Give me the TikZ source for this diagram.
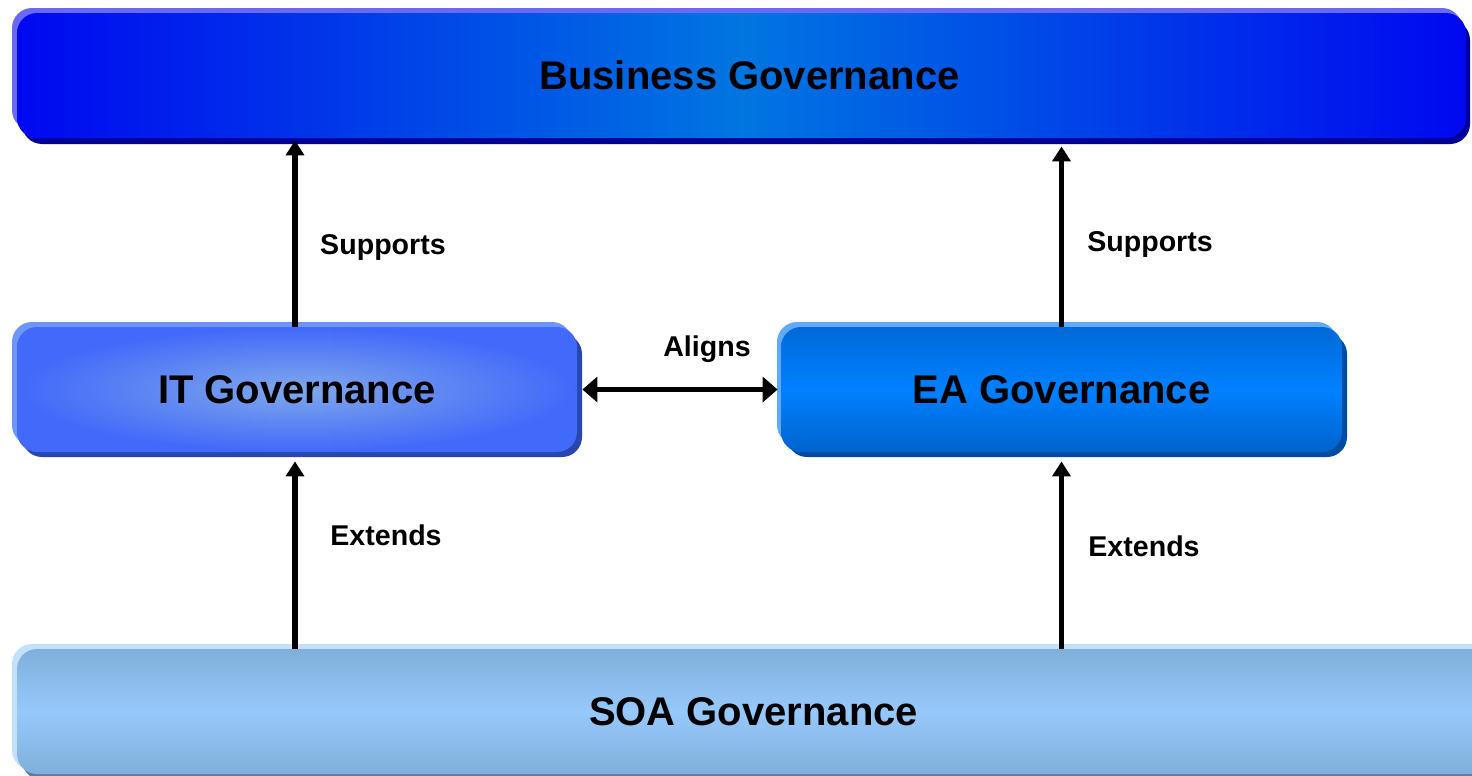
\documentclass[tikz,border=0pt]{standalone}
\usepackage{fontspec}
\setmainfont{Liberation Sans}
\usetikzlibrary{arrows.meta}
\definecolor{bizedge}{RGB}{0,8,240}
\definecolor{bizmid}{RGB}{0,118,225}
\definecolor{bizlight}{RGB}{105,105,245}
\definecolor{bizdark}{RGB}{0,0,150}
\definecolor{itouter}{RGB}{65,105,250}
\definecolor{itinner}{RGB}{128,168,235}
\definecolor{itlight}{RGB}{110,150,250}
\definecolor{itdark}{RGB}{40,70,175}
\definecolor{eatop}{RGB}{0,105,215}
\definecolor{eamid}{RGB}{0,128,255}
\definecolor{eabot}{RGB}{0,100,205}
\definecolor{ealight}{RGB}{95,170,250}
\definecolor{eadark}{RGB}{0,75,165}
\definecolor{soaedge}{RGB}{128,175,218}
\definecolor{soamid}{RGB}{150,200,252}
\definecolor{soalight}{RGB}{195,225,255}
\definecolor{soadark}{RGB}{90,125,165}
\tikzset{
  gbox/.style={rounded corners=10pt, font=\bfseries\fontsize{20}{24}\selectfont, text=black, inner sep=0pt},
  lbl/.style={font=\bfseries\fontsize{14.3}{17}\selectfont, text=black, inner sep=0pt},
  arr/.style={line width=2.6pt, -{Triangle[length=7.5pt,width=9pt]}},
  arrb/.style={line width=2.1pt, {Triangle[length=7.5pt,width=12.5pt]}-{Triangle[length=7.5pt,width=12.5pt]}},
}
\begin{document}
\begin{tikzpicture}[x=0.5pt,y=-0.5pt]
\useasboundingbox (0,0) rectangle (1472,776);
\clip (0,0) rectangle (1472,776);
% Business Governance
\fill[bizlight, rounded corners=10pt] (12,8) rectangle (1462,130);
\fill[bizdark, rounded corners=10pt] (22,20) rectangle (1470,144);
\node[gbox, minimum width=724.5pt, minimum height=62.5pt,
  left color=bizedge, right color=bizedge, middle color=bizmid] (biz) at (741.5,75.5) {\hspace*{8pt}Business Governance};
% IT Governance
\fill[itlight, rounded corners=10pt] (12,322) rectangle (572,445);
\fill[itdark, rounded corners=10pt] (22,334) rectangle (582,457);
\node[gbox, minimum width=280pt, minimum height=62.5pt,
  inner color=itinner, outer color=itouter] (it) at (297,389.5) {IT Governance};
% EA Governance
\fill[ealight, rounded corners=10pt] (777,322) rectangle (1337,445);
\fill[eadark, rounded corners=10pt] (787,334) rectangle (1347,457);
\node[gbox, minimum width=280.5pt, minimum height=62.5pt,
  top color=eatop, bottom color=eabot, middle color=eamid] (ea) at (1061.5,389.5) {EA Governance};
% SOA Governance
\fill[soalight, rounded corners=10pt] (12,644) rectangle (1490,770);
\fill[soadark, rounded corners=10pt] (22,656) rectangle (1500,780);
\node[gbox, minimum width=736.5pt, minimum height=62.5pt,
  top color=soaedge, bottom color=soaedge, middle color=soamid] (soa) at (753.5,711.5) {SOA Governance};
% connectors
\draw[arr] ([xshift=-1pt]it.north) -- ([xshift=-1pt,yshift=-1pt]it.north |- biz.south);
\draw[arr] (ea.north) -- ([yshift=-4pt]ea.north |- biz.south);
\draw[arr] ([xshift=-1pt]it.south |- soa.north) -- ([xshift=-1pt,yshift=-4.5pt]it.south);
\draw[arr] (ea.south |- soa.north) -- ([yshift=-4.5pt]ea.south);
\draw[arrb] ([xshift=2.5pt]it.east) -- ([xshift=-1.5pt]ea.west);
% labels
\node[lbl] (sup1) at (383,247) {Supports};
\node[lbl] (sup2) at (1150,244) {Supports};
\node[lbl] (ext1) at (386,535) {Extends};
\node[lbl] (ext2) at (1144,546) {Extends};
\node[lbl] (ali) at (707,349) {Aligns};
\end{tikzpicture}
\end{document}
